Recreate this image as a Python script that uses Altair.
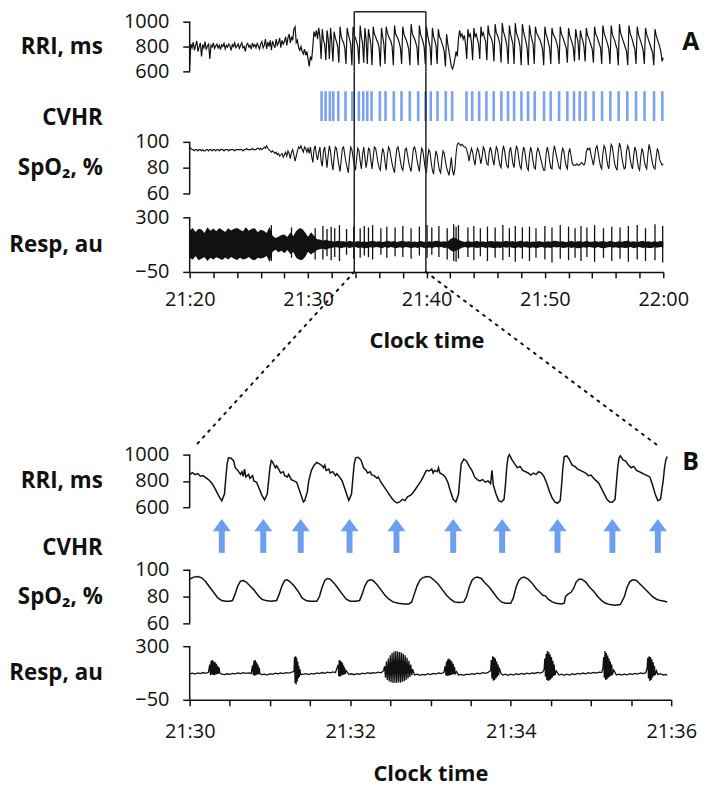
import altair as alt
import pandas as pd

FONT = "Open Sans"
INK = "#111111"
TICK_BLUE = "#6b98f2"
ARROW_BLUE = "#6c9ff0"

# ---------------- Panel A : minutes after 21:20 ----------------
# RRI (ms), one row per minute, samples every 0.1 min
RRI_A_ROWS = [
    [650, 820, 790, 835, 770, 810, 845, 760, 800, 830],
    [720, 815, 790, 840, 775, 805, 820, 700, 810, 795],
    [830, 785, 805, 820, 790, 810, 775, 815, 800, 825],
    [780, 810, 795, 820, 805, 770, 815, 800, 830, 790],
    [805, 820, 785, 810, 830, 790, 800, 760, 815, 825],
    [795, 810, 780, 830, 800, 815, 790, 825, 805, 780],
    [820, 840, 790, 810, 860, 780, 835, 800, 850, 770],
    [845, 815, 790, 860, 810, 830, 870, 790, 850, 820],
    [840, 880, 810, 870, 900, 830, 880, 850, 940, 960],
    [830, 850, 790, 770, 800, 760, 740, 780, 730, 760],
    [700, 640, 720, 690, 800, 920, 880, 930, 860, 950],
    [880, 700, 940, 850, 820, 690, 930, 860, 700, 950],
    [830, 680, 920, 870, 840, 800, 670, 960, 880, 850],
    [830, 790, 660, 950, 900, 860, 820, 650, 960, 890],
    [870, 840, 800, 660, 970, 880, 830, 670, 950, 860],
    [660, 940, 880, 820, 650, 960, 900, 880, 850, 830],
    [790, 640, 950, 880, 820, 660, 960, 910, 880, 860],
    [840, 800, 650, 970, 900, 880, 860, 830, 790, 660],
    [960, 900, 870, 850, 820, 780, 650, 980, 910, 880],
    [860, 830, 790, 650, 970, 900, 870, 840, 800, 660],
    [960, 890, 840, 800, 650, 950, 880, 850, 810, 660],
    [940, 880, 860, 830, 800, 760, 640, 900, 820, 760],
    [700, 640, 620, 650, 700, 760, 720, 860, 930, 880],
    [900, 860, 890, 820, 700, 940, 880, 900, 830, 690],
    [950, 880, 900, 860, 820, 700, 960, 890, 910, 870],
    [840, 690, 970, 900, 880, 860, 820, 680, 980, 910],
    [890, 860, 820, 670, 990, 920, 890, 850, 800, 660],
    [970, 900, 860, 820, 660, 990, 910, 880, 850, 800],
    [650, 980, 920, 880, 840, 790, 650, 970, 900, 860],
    [820, 660, 960, 910, 890, 870, 850, 820, 780, 650],
    [960, 900, 870, 830, 790, 660, 950, 900, 880, 860],
    [830, 790, 660, 960, 900, 880, 850, 820, 790, 670],
    [950, 890, 860, 830, 790, 680, 940, 880, 840, 690],
    [930, 880, 850, 800, 680, 950, 890, 870, 840, 810],
    [780, 670, 960, 900, 880, 850, 820, 790, 660, 970],
    [910, 880, 850, 820, 780, 660, 970, 900, 870, 850],
    [810, 780, 650, 980, 910, 880, 850, 820, 790, 760],
    [650, 970, 910, 880, 850, 810, 780, 660, 960, 900],
    [870, 840, 810, 770, 660, 950, 900, 870, 840, 810],
    [780, 750, 650, 940, 890, 860, 830, 800, 760, 680],
]
RRI_A_END = 710

# SpO2 (%), one row per minute, samples every 0.1 min
SPO2_A_ROWS = [
    [96, 95, 94, 94, 93, 94, 94, 93, 94, 94],
    [93, 94, 93, 93, 94, 94, 93, 94, 94, 93],
    [94, 94, 93, 94, 94, 93, 94, 94, 94, 93],
    [94, 94, 94, 93, 94, 94, 94, 94, 93, 94],
    [94, 94, 94, 94, 94, 93, 94, 94, 95, 94],
    [94, 94, 94, 95, 94, 94, 94, 95, 95, 94],
    [95, 94, 95, 96, 95, 97, 95, 94, 93, 92],
    [93, 92, 91, 92, 90, 91, 89, 90, 91, 88],
    [90, 92, 89, 93, 91, 87, 92, 94, 90, 85],
    [89, 93, 96, 95, 97, 94, 92, 96, 95, 92],
    [95, 91, 96, 89, 84, 94, 97, 90, 86, 92],
    [96, 85, 81, 93, 96, 88, 80, 90, 97, 92],
    [84, 78, 88, 96, 95, 88, 82, 77, 86, 95],
    [96, 90, 84, 80, 76, 88, 96, 94, 88, 82],
    [78, 87, 95, 93, 85, 79, 90, 96, 88, 80],
    [86, 95, 94, 86, 79, 88, 96, 95, 90, 84],
    [80, 78, 88, 95, 92, 84, 78, 90, 96, 94],
    [88, 83, 79, 76, 87, 95, 96, 91, 85, 80],
    [78, 85, 94, 95, 90, 84, 80, 77, 86, 95],
    [96, 92, 86, 81, 77, 88, 95, 93, 86, 79],
    [76, 88, 94, 92, 84, 78, 75, 86, 93, 90],
    [83, 78, 76, 86, 93, 91, 85, 80, 77, 74],
    [80, 88, 78, 74, 79, 91, 98, 99, 98, 97],
    [98, 97, 96, 96, 94, 90, 85, 91, 95, 92],
    [86, 82, 90, 95, 93, 88, 83, 89, 96, 94],
    [88, 83, 82, 92, 96, 92, 86, 82, 90, 96],
    [94, 87, 82, 80, 91, 97, 93, 86, 81, 80],
    [92, 96, 90, 83, 80, 91, 97, 94, 87, 81],
    [79, 90, 96, 93, 86, 80, 78, 90, 96, 92],
    [85, 80, 79, 91, 95, 93, 89, 85, 81, 78],
    [78, 90, 96, 92, 85, 80, 79, 91, 97, 93],
    [88, 84, 80, 79, 90, 95, 93, 86, 81, 79],
    [91, 95, 90, 84, 82, 82, 82, 83, 82, 82],
    [83, 84, 83, 82, 84, 92, 95, 94, 95, 90],
    [86, 82, 88, 95, 97, 92, 86, 81, 79, 91],
    [97, 95, 88, 82, 79, 90, 98, 96, 89, 83],
    [80, 78, 92, 99, 96, 88, 83, 79, 80, 93],
    [97, 94, 87, 82, 79, 89, 96, 93, 86, 80],
    [78, 88, 95, 92, 85, 81, 79, 90, 98, 94],
    [88, 83, 80, 79, 88, 95, 92, 86, 84, 82],
]
SPO2_A_END = 83

# Respiration envelope (au), one row per minute, samples every 0.25 min
RESP_A_HI_ROWS = [
    [215, 232, 205, 226], [222, 200, 236, 214], [228, 210, 232, 218],
    [206, 230, 216, 226], [232, 220, 210, 236], [214, 226, 230, 204],
    [220, 214, 200, 240], [182, 168, 176, 186], [190, 174, 202, 180],
    [212, 230, 226, 202], [176, 204, 182, 160], [158, 150, 156, 150],
    [148, 144, 150, 146], [146, 141, 149, 143], [144, 148, 142, 147],
    [141, 146, 149, 143], [147, 142, 145, 149], [143, 148, 141, 146],
    [149, 144, 147, 142], [145, 141, 148, 144], [142, 147, 143, 149],
    [148, 143, 146, 141], [160, 170, 165, 155], [146, 142, 148, 143],
    [144, 149, 142, 147], [141, 146, 148, 143], [147, 143, 145, 149],
    [143, 148, 142, 146], [149, 144, 147, 142], [145, 141, 148, 144],
    [142, 147, 143, 149], [148, 143, 146, 141], [144, 149, 142, 147],
    [146, 141, 149, 143], [143, 148, 144, 146], [147, 142, 149, 144],
    [141, 146, 143, 148], [149, 144, 147, 142], [145, 149, 143, 147],
    [142, 147, 144, 148],
]
RESP_A_HI_END = 145
RESP_A_LO_ROWS = [
    [40, 28, 52, 24], [34, 46, 20, 40], [30, 44, 36, 26],
    [42, 30, 46, 34], [26, 40, 30, 34], [46, 30, 24, 40],
    [36, 40, 52, 14], [80, 92, 76, 86], [70, 90, 64, 78],
    [40, 28, 26, 46], [80, 62, 76, 90], [96, 100, 92, 100],
    [104, 110, 106, 102], [106, 110, 103, 108], [109, 104, 107, 102],
    [103, 108, 105, 110], [107, 102, 109, 104], [110, 105, 103, 108],
    [104, 109, 106, 102], [108, 103, 110, 105], [102, 107, 104, 109],
    [106, 110, 103, 107], [90, 80, 85, 95], [105, 109, 103, 108],
    [108, 103, 106, 110], [103, 108, 105, 102], [107, 104, 109, 105],
    [110, 105, 102, 108], [104, 109, 106, 103], [108, 102, 107, 110],
    [103, 107, 104, 109], [106, 110, 103, 105], [109, 104, 108, 102],
    [104, 108, 105, 110], [107, 103, 109, 104], [102, 106, 110, 105],
    [108, 104, 107, 103], [105, 110, 102, 106], [109, 103, 107, 104],
    [104, 108, 105, 109],
]
RESP_A_LO_END = 106

# Respiration spikes: (minute, high, low)
RESP_A_SPIKES = [
    (6.9, 250, 20), (8.6, 235, 40), (10.6, 230, 30),
    (11.25, 245, 30), (11.6, 225, 50), (11.95, 240, 25), (12.25, 230, 45),
    (12.65, 250, 20), (13.25, 225, 60), (13.85, 240, 35), (14.4, 230, 40),
    (14.75, 245, 55), (15.1, 235, 45), (15.45, 250, 30), (16.15, 230, 60),
    (16.65, 240, 40), (17.35, 235, 50), (18.0, 245, 45), (18.7, 230, 35),
    (19.4, 240, 55), (20.05, 250, 40), (20.45, 235, 60), (21.05, 245, 45),
    (21.75, 230, 30), (22.3, 255, 20), (22.5, 240, 15), (22.7, 250, 35),
    (23.5, 235, 45), (24.0, 245, 25), (24.55, 230, 50), (25.15, 240, 20),
    (25.8, 235, 40), (26.45, 250, 25), (27.0, 230, 45), (27.5, 245, 15),
    (28.1, 235, 35), (28.7, 240, 20), (29.25, 230, 40), (30.0, 245, 30),
    (30.6, 235, 10), (31.3, 250, 35), (32.0, 240, 25), (32.55, 230, 40),
    (33.05, 245, 20), (33.55, 235, 45), (34.2, 250, 15), (34.95, 230, 40),
    (35.65, 240, 20), (36.35, 235, 35), (37.05, 245, 15), (37.8, 250, 30),
    (38.5, 230, 20), (39.3, 255, 25), (39.95, 245, 10),
]

# CVHR events (minutes after 21:20)
CVHR_A = [
    11.14, 11.48, 11.84, 12.13, 12.55, 13.16, 13.73, 14.29, 14.66, 15.0,
    15.36, 16.06, 16.54, 17.24, 17.89, 18.59, 19.30, 19.92, 20.36, 20.93,
    21.63, 22.17, 23.38, 23.86, 24.45, 25.06, 25.68, 26.33, 26.89, 27.40,
    28.02, 28.58, 29.14, 29.93, 30.49, 31.2, 31.9, 32.46, 32.94, 33.44,
    34.12, 34.83, 35.53, 36.23, 36.96, 37.70, 38.42, 39.22, 39.92,
]
BOX_A = [13.9, 19.95]
A_LABELS = ["21:20", "21:30", "21:40", "21:50", "22:00"]

# ---------------- Panel B : seconds after 21:30 ----------------
RRI_B = [
    (0, 850), (2, 862), (4, 848), (6, 855), (8, 835), (10, 840), (12, 825), (14, 810),
    (16, 790), (18, 760), (20, 720), (22, 680), (24, 648), (26, 700), (27, 820), (28, 930),
    (29, 975), (31, 972), (33, 950), (34, 900), (36, 880), (38, 850), (39, 870), (40, 835),
    (41, 890), (42, 830), (44, 850), (45, 820), (47, 840), (48, 800), (50, 790), (52, 740),
    (54, 690), (56, 655), (58, 700), (59, 800), (60, 900), (61, 955), (62, 945), (64, 900),
    (65, 915), (67, 880), (68, 860), (70, 870), (71, 840), (73, 830), (74, 850), (76, 810),
    (78, 800), (80, 790), (81, 760), (83, 700), (85, 640), (86, 650), (88, 720), (89, 800),
    (91, 880), (93, 920), (95, 940), (97, 930), (99, 915), (100, 900), (101, 920), (102, 880),
    (104, 890), (105, 860), (107, 870), (109, 840), (110, 855), (112, 830), (114, 800), (116, 740),
    (118, 680), (119, 652), (121, 700), (122, 820), (123, 930), (124, 975), (126, 980), (128, 960),
    (129, 930), (130, 900), (132, 880), (133, 860), (135, 870), (136, 845), (138, 840), (140, 820),
    (141, 830), (143, 790), (145, 760), (147, 730), (149, 700), (151, 670), (153, 645), (155, 632),
    (157, 640), (159, 660), (161, 650), (163, 680), (165, 690), (167, 710), (169, 740), (171, 770),
    (173, 800), (175, 840), (177, 880), (179, 875), (181, 890), (182, 860), (183, 880), (185, 870),
    (186, 900), (187, 860), (189, 850), (191, 830), (193, 790), (195, 720), (197, 660), (199, 640),
    (201, 700), (202, 820), (203, 930), (205, 965), (207, 950), (209, 910), (211, 880), (213, 830),
    (215, 810), (217, 800), (219, 810), (221, 790), (223, 800), (225, 780), (226, 880), (227, 770),
    (229, 700), (231, 650), (233, 640), (235, 660), (236, 760), (237, 900), (238, 980), (239, 1000),
    (241, 960), (243, 930), (245, 900), (247, 910), (249, 880), (251, 870), (253, 860), (255, 845),
    (257, 860), (259, 850), (261, 870), (263, 860), (265, 830), (267, 780), (269, 720), (271, 670),
    (273, 640), (275, 630), (277, 650), (278, 760), (279, 900), (280, 985), (282, 990), (284, 960),
    (286, 920), (288, 910), (290, 890), (292, 880), (294, 870), (296, 860), (298, 840), (300, 845),
    (302, 820), (304, 800), (306, 780), (308, 740), (310, 700), (312, 660), (314, 640), (316, 638),
    (318, 660), (319, 780), (320, 900), (321, 975), (322, 990), (324, 960), (326, 950), (328, 920),
    (330, 900), (332, 910), (334, 880), (336, 870), (338, 860), (340, 850), (342, 840), (344, 830),
    (346, 770), (348, 700), (350, 650), (352, 660), (354, 800), (355, 900), (356, 960), (357, 985),
]

SPO2_B = [
    (0, 93), (3, 94.5), (6, 95), (9, 94), (12, 91), (15, 87), (18, 83), (21, 79), (24, 77),
    (27, 76.5), (30, 76.5), (32, 77), (34, 82), (36, 88), (38, 91.5), (40, 92), (42, 91),
    (45, 88), (48, 85), (51, 81), (54, 78), (57, 77), (61, 76.5), (65, 77), (67, 82), (69, 88),
    (71, 92), (73, 92.5), (75, 91), (78, 88), (81, 84), (84, 79), (87, 77), (90, 76.5),
    (95, 76.5), (97, 80), (99, 87), (101, 92), (103, 93.5), (105, 93), (108, 90), (111, 86),
    (114, 82), (117, 78), (120, 76.5), (124, 76.5), (127, 77), (129, 82), (131, 88), (133, 91.5),
    (135, 92.5), (137, 92), (140, 89), (143, 85), (146, 81), (149, 78), (152, 76), (156, 75),
    (160, 74.5), (164, 74.5), (166, 76), (168, 82), (170, 88), (172, 92), (174, 94), (177, 95),
    (180, 94.5), (183, 92), (186, 89), (189, 85), (192, 81), (195, 78), (198, 76), (202, 75.5),
    (205, 76), (207, 80), (209, 87), (211, 92), (213, 94), (215, 94.5), (218, 93.5), (221, 90),
    (224, 87), (227, 83), (230, 79), (233, 76), (236, 75), (240, 75), (242, 79), (244, 87),
    (246, 92), (248, 94), (250, 94.5), (253, 93), (256, 90), (259, 86), (262, 83), (264, 81),
    (266, 80.5), (268, 78), (271, 76), (274, 75), (278, 74.5), (280, 75), (281, 80), (283, 82),
    (285, 83), (287, 86), (289, 91), (291, 93), (293, 93), (296, 91), (299, 87), (302, 84),
    (305, 80), (308, 77), (311, 75), (314, 74), (318, 73.5), (322, 74), (325, 80), (327, 87),
    (329, 91), (331, 92.5), (334, 92), (337, 89), (340, 86), (343, 83), (346, 80), (349, 78),
    (352, 77), (355, 76.5), (357, 76),
]

RESP_B = [
    (0, 120), (2, 124), (4, 118), (6, 126), (8, 121), (10, 128), (12, 123), (14, 130),
    (15, 180), (15.5, 110), (16, 205), (16.5, 115), (17, 210), (17.5, 112), (18, 200), (18.5, 110),
    (19, 195), (19.5, 115), (20, 185), (20.5, 118), (21, 170), (21.5, 120), (22, 160), (22.5, 125),
    (24, 118), (26, 114), (28, 120), (30, 116), (32, 122), (34, 119), (36, 125), (38, 121),
    (40, 127), (42, 123), (44, 126), (46, 122),
    (47, 175), (47.5, 112), (48, 205), (48.5, 108), (49, 210), (49.5, 110), (50, 195), (50.5, 115),
    (51, 180), (51.5, 118), (52, 160), (52.5, 120),
    (54, 115), (56, 118), (58, 112), (60, 120), (62, 116), (64, 124), (66, 119), (68, 126),
    (70, 121), (72, 128), (74, 124), (76, 130),
    (78, 135), (78.4, 230), (78.8, 60), (79.2, 235), (79.6, 50), (80, 225), (80.4, 70), (80.8, 200),
    (81.2, 90), (81.6, 170), (82, 100), (82.4, 150), (83, 115),
    (85, 118), (87, 121), (89, 115), (91, 123), (93, 118), (95, 126), (97, 121), (99, 128),
    (101, 123), (103, 130), (105, 126), (107, 132), (109, 128),
    (111, 180), (111.4, 105), (111.8, 210), (112.2, 100), (112.6, 205), (113, 108), (113.4, 200),
    (113.8, 110), (114.2, 190), (114.6, 112), (115, 175), (115.4, 115), (115.8, 160), (116.2, 118),
    (117, 140),
    (119, 116), (121, 120), (123, 114), (125, 121), (127, 117), (129, 124), (131, 120), (133, 127),
    (135, 122), (137, 128), (139, 124), (141, 130), (143, 126),
    (145, 140), (145.7, 170), (146.4, 95), (147.1, 200), (147.8, 80), (148.5, 220), (149.2, 70),
    (149.9, 240), (150.6, 65), (151.3, 255), (152, 60), (152.7, 265), (153.4, 62), (154.1, 268),
    (154.8, 60), (155.5, 265), (156.2, 65), (156.9, 262), (157.6, 62), (158.3, 258), (159, 68),
    (159.7, 250), (160.4, 72), (161.1, 240), (161.8, 80), (162.5, 225), (163.2, 90), (163.9, 205),
    (164.6, 100), (165.3, 180), (166, 110), (166.7, 150),
    (168, 112), (170, 118), (172, 110), (174, 116), (176, 112), (178, 120), (180, 115), (182, 122),
    (184, 118), (186, 125), (188, 121), (190, 128),
    (191, 170), (191.5, 110), (192, 200), (192.5, 105), (193, 215), (193.5, 108), (194, 220),
    (194.5, 110), (195, 210), (195.5, 112), (196, 200), (196.5, 115), (197, 185), (197.5, 118),
    (198, 165), (198.5, 120), (199.5, 135),
    (201, 112), (203, 116), (205, 110), (207, 118), (209, 114), (211, 121), (213, 117), (215, 124),
    (217, 120), (219, 127), (221, 123), (223, 129),
    (225, 140), (225.5, 210), (226, 90), (226.5, 235), (227, 75), (227.5, 230), (228, 80),
    (228.5, 220), (229, 90), (229.5, 200), (230, 100), (230.5, 180), (231, 110), (231.5, 160),
    (232.5, 125),
    (234, 112), (236, 118), (238, 110), (240, 117), (242, 112), (244, 120), (246, 115), (248, 122),
    (250, 117), (252, 124), (254, 120), (256, 126), (258, 122), (260, 129), (262, 125), (264, 131),
    (265, 150), (265.5, 220), (266, 100), (266.5, 250), (267, 80), (267.5, 268), (268, 73),
    (268.5, 260), (269, 78), (269.5, 245), (270, 85), (270.5, 230), (271, 95), (271.5, 205),
    (272, 105), (272.5, 180), (273, 110), (274, 140),
    (276, 112), (278, 118), (280, 110), (282, 117), (284, 112), (286, 120), (288, 115), (290, 122),
    (292, 118), (294, 125), (296, 120), (298, 127), (300, 123), (302, 129), (304, 125), (306, 131),
    (308, 128),
    (309, 160), (309.5, 230), (310, 95), (310.5, 268), (311, 80), (311.5, 255), (312, 85),
    (312.5, 240), (313, 95), (313.5, 220), (314, 100), (314.5, 200), (315, 108), (315.5, 180),
    (316, 112), (317, 145),
    (319, 112), (321, 118), (323, 111), (325, 117), (327, 113), (329, 120), (331, 116), (333, 122),
    (335, 118), (337, 125), (339, 121), (341, 127),
    (342, 160), (342.5, 225), (343, 90), (343.5, 235), (344, 73), (344.5, 230), (345, 80),
    (345.5, 215), (346, 95), (346.5, 195), (347, 105), (347.5, 170), (348, 112), (349, 140),
    (350, 115), (352, 120), (354, 112), (356, 116), (357, 110),
]

# CVHR events (seconds after 21:30)
CVHR_B = [24, 55, 83, 119.5, 154.6, 197, 233.6, 275, 316, 350]
B_LABELS = ["21:30", "21:32", "21:34", "21:36"]
PANEL_LETTERS = ["A", "B"]

# ---------------- layout (pixels) ----------------
WA, WB = 477, 485
HA = [60, 71, 76, 55]      # RRI, CVHR, SpO2, Resp rows of panel A
HB = [53, 63, 77, 54]      # same rows of panel B
GAP_AB = 184               # from A's time axis to the top of panel B
LETTER_DX_A = 19           # panel letter offset right of each plot
LETTER_DX_B = 11
TITLE_X = -88              # right edge of the row labels, from the plot's left edge

RRI_A_DOM = [600, 1000 + 10 * 400 / 50]
SPO2_A_DOM = [100 - 40 * HA[2] / 52, 100]
RESP_DOM = [-50, 300]
CV_DOM = [0, 1]
RRI_B_DOM = [600, 1000]
SPO2_B_DOM = [100 - 40 * HB[2] / 54, 100]


# ---------------- data frames ----------------
def rows_to_df(rows, end, step):
    recs = []
    for m, row in enumerate(rows):
        for i, v in enumerate(row):
            recs.append((m + i * step, v))
    recs.append((len(rows), end))
    return pd.DataFrame(recs, columns=["t", "v"])


rri_a = rows_to_df(RRI_A_ROWS, RRI_A_END, 0.1)
spo2_a = rows_to_df(SPO2_A_ROWS, SPO2_A_END, 0.1)
resp_hi = rows_to_df(RESP_A_HI_ROWS, RESP_A_HI_END, 0.25)
resp_lo = rows_to_df(RESP_A_LO_ROWS, RESP_A_LO_END, 0.25)
resp_a = pd.DataFrame({"t": resp_hi["t"], "hi": resp_hi["v"], "lo": resp_lo["v"]})
spikes_a = pd.DataFrame(RESP_A_SPIKES, columns=["t", "hi", "lo"])

rri_b = pd.DataFrame(RRI_B, columns=["t", "v"])
spo2_b = pd.DataFrame(SPO2_B, columns=["t", "v"])
resp_b = pd.DataFrame(RESP_B, columns=["t", "v"])


# ---------------- helpers ----------------
def yaxis(title, values, ty):
    kw = dict(
        domain=False, grid=False, tickSize=7, tickWidth=1.5, tickColor=INK,
        labelFont=FONT, labelFontSize=20, labelColor=INK, labelPadding=14,
        format="d",
        title=title, titleAngle=0, titleAlign="right", titleBaseline="middle",
        titleX=TITLE_X, titleY=ty, titleFont=FONT, titleFontSize=22.5,
        titleFontWeight="bold", titleColor=INK,
    )
    if values:
        kw["values"] = values
    else:
        kw["ticks"] = False
        kw["labels"] = False
    return alt.Axis(**kw)


def xaxis(values, expr, lab_pad, title_pad):
    return alt.Axis(
        values=values, labelExpr=expr, grid=False, tickSize=6, tickWidth=1.5,
        tickColor=INK, domainColor=INK, domainWidth=1.5, labelFont=FONT,
        labelFontSize=20, labelColor=INK, labelPadding=lab_pad, labelOverlap=False,
        labelFlush=False, title="Clock time", titleFont=FONT, titleFontSize=22,
        titleFontWeight="bold", titleColor=INK, titlePadding=title_pad,
    )


def make_x(domain, axis):
    sc = alt.Scale(domain=domain, nice=False, zero=False)
    return lambda f: alt.X(f, type="quantitative", scale=sc, axis=axis)


def make_y(domain, axis):
    sc = alt.Scale(domain=domain, nice=False, zero=False)
    return lambda f: alt.Y(f, type="quantitative", scale=sc, axis=axis)


def axis_line(X, Y, t0, lo, hi):
    df = pd.DataFrame({"t": [t0], "lo": [lo], "hi": [hi]})
    return alt.Chart(df).mark_rule(color=INK, strokeWidth=1.5).encode(
        x=X("t"), y=Y("lo"), y2="hi")


def box_sides(X, Y, lo, hi):
    df = pd.DataFrame({"t": BOX_A, "lo": [lo, lo], "hi": [hi, hi]})
    return alt.Chart(df).mark_rule(color="#222222", strokeWidth=1.5).encode(
        x=X("t"), y=Y("lo"), y2="hi")


def letter(X, Y, text, x_dom, width, dx, y_val):
    df = pd.DataFrame({"t": [x_dom[1] + dx * (x_dom[1] - x_dom[0]) / width],
                       "y": [y_val], "s": [text]})
    return alt.Chart(df).mark_text(align="left", baseline="middle", font=FONT,
                                   fontSize=25, fontWeight="bold", color=INK).encode(
        x=X("t"), y=Y("y"), text="s:N")


a_expr = ("datum.value % 10 == 0 ? " + str(A_LABELS) + "[datum.value / 10] : ''")
b_expr = ("datum.value % 120 == 0 ? " + str(B_LABELS) + "[datum.value / 120] : ''")

XA = make_x([0, 40], None)
XA_axis = make_x([0, 40], xaxis(list(range(0, 41, 2)), a_expr, 12, 21))
XB = make_x([0, 360], None)
XB_axis = make_x([0, 360], xaxis(list(range(0, 361, 30)), b_expr, 16, 22))

# ---------------- Panel A ----------------
Y1 = make_y(RRI_A_DOM, yaxis("RRI, ms", [600, 800, 1000], 35))
box_top = pd.DataFrame({"t": [BOX_A[0]], "t2": [BOX_A[1]], "y": [RRI_A_DOM[1]]})
a1 = alt.layer(
    alt.Chart(rri_a).mark_line(color=INK, strokeWidth=1.2).encode(x=XA("t"), y=Y1("v")),
    axis_line(XA, Y1, 0, 600, 1000),
    box_sides(XA, Y1, RRI_A_DOM[0], RRI_A_DOM[1]),
    alt.Chart(box_top).mark_rule(color="#222222", strokeWidth=1.5).encode(
        x=XA("t"), x2="t2", y=Y1("y")),
    letter(XA, Y1, PANEL_LETTERS[0], [0, 40], WA, LETTER_DX_A, 840),
).properties(width=WA, height=HA[0])

Y2 = make_y(CV_DOM, yaxis("CVHR", [], 47))
cv_a = pd.DataFrame({"t": CVHR_A, "lo": 0.296, "hi": 0.718})
a2 = alt.layer(
    alt.Chart(cv_a).mark_rule(color=TICK_BLUE, strokeWidth=2.6, opacity=0.9).encode(
        x=XA("t"), y=Y2("lo"), y2="hi"),
    box_sides(XA, Y2, CV_DOM[0], CV_DOM[1]),
).properties(width=WA, height=HA[1])

Y3 = make_y(SPO2_A_DOM, yaxis("SpO₂, %", [60, 80, 100], 26))
a3 = alt.layer(
    alt.Chart(spo2_a).mark_line(color=INK, strokeWidth=1.1).encode(x=XA("t"), y=Y3("v")),
    axis_line(XA, Y3, 0, 60, 100),
    box_sides(XA, Y3, SPO2_A_DOM[0], SPO2_A_DOM[1]),
).properties(width=WA, height=HA[2])

Y4 = make_y(RESP_DOM, yaxis("Resp, au", [-50, 300], 27.5))
# dotted connectors from the box corners down to the corners of panel B
px_min_a = 40 / WA
units_px_a4 = (RESP_DOM[1] - RESP_DOM[0]) / HA[3]
y_end = RESP_DOM[0] - (GAP_AB - 8) * units_px_a4
conn = pd.DataFrame({
    "t": BOX_A,
    "y": [RESP_DOM[0], RESP_DOM[0]],
    "t2": [5 * px_min_a, (WB - 12) * px_min_a],
    "y2": [y_end, y_end],
})
a4 = alt.layer(
    alt.Chart(resp_a).mark_area(color=INK, opacity=1).encode(
        x=XA_axis("t"), y=Y4("lo"), y2="hi"),
    alt.Chart(spikes_a).mark_rule(color=INK, strokeWidth=1.3).encode(
        x=XA_axis("t"), y=Y4("lo"), y2="hi"),
    axis_line(XA_axis, Y4, 0, -50, 300),
    box_sides(XA_axis, Y4, RESP_DOM[0], RESP_DOM[1]),
    alt.Chart(conn).mark_rule(color=INK, strokeWidth=2, strokeDash=[2, 6],
                              strokeCap="round").encode(
        x=XA_axis("t"), y=Y4("y"), x2="t2", y2="y2"),
).properties(width=WA, height=HA[3])

# empty spacer between the two panels (holds A's time axis)
spacer = alt.Chart(pd.DataFrame({"t": [0.0]})).mark_point(opacity=0).encode(
    x=alt.X("t:Q", axis=None), y=alt.Y("t:Q", axis=None)
).properties(width=WA, height=GAP_AB)

# ---------------- Panel B ----------------
YB1 = make_y(RRI_B_DOM, yaxis("RRI, ms", [600, 800, 1000], 26.5))
b1 = alt.layer(
    alt.Chart(rri_b).mark_line(color=INK, strokeWidth=1.5).encode(x=XB("t"), y=YB1("v")),
    axis_line(XB, YB1, 0, 600, 1000),
    letter(XB, YB1, PANEL_LETTERS[1], [0, 360], WB, LETTER_DX_B, 940),
).properties(width=WB, height=HB[0])

YB2 = make_y(CV_DOM, yaxis("CVHR", [], 41))
cv_b = pd.DataFrame({"t": CVHR_B, "lo": 0.27, "hi": 0.62, "head": 0.667})
b2 = alt.layer(
    alt.Chart(cv_b).mark_rule(color=ARROW_BLUE, strokeWidth=6).encode(
        x=XB("t"), y=YB2("lo"), y2="hi"),
    alt.Chart(cv_b).mark_point(shape="M-1,0.35L1,0.35L0,-1Z", size=330, filled=True,
                               color=ARROW_BLUE, opacity=1).encode(
        x=XB("t"), y=YB2("head")),
).properties(width=WB, height=HB[1])

YB3 = make_y(SPO2_B_DOM, yaxis("SpO₂, %", [60, 80, 100], 27))
b3 = alt.layer(
    alt.Chart(spo2_b).mark_line(color=INK, strokeWidth=1.5).encode(x=XB("t"), y=YB3("v")),
    axis_line(XB, YB3, 0, 60, 100),
).properties(width=WB, height=HB[2])

YB4 = make_y(RESP_DOM, yaxis("Resp, au", [-50, 300], 27))
b4 = alt.layer(
    alt.Chart(resp_b).mark_line(color=INK, strokeWidth=1.3).encode(x=XB_axis("t"), y=YB4("v")),
    axis_line(XB_axis, YB4, 0, -50, 300),
).properties(width=WB, height=HB[3])

chart = alt.vconcat(
    a1, a2, a3, a4, spacer, b1, b2, b3, b4, spacing=0, bounds="flush"
).resolve_scale(
    x="independent", y="independent"
).properties(padding=0).configure(font=FONT).configure_view(stroke=None, strokeWidth=0)

chart.save("out.html", embed_options={"renderer": "svg", "actions": False})
